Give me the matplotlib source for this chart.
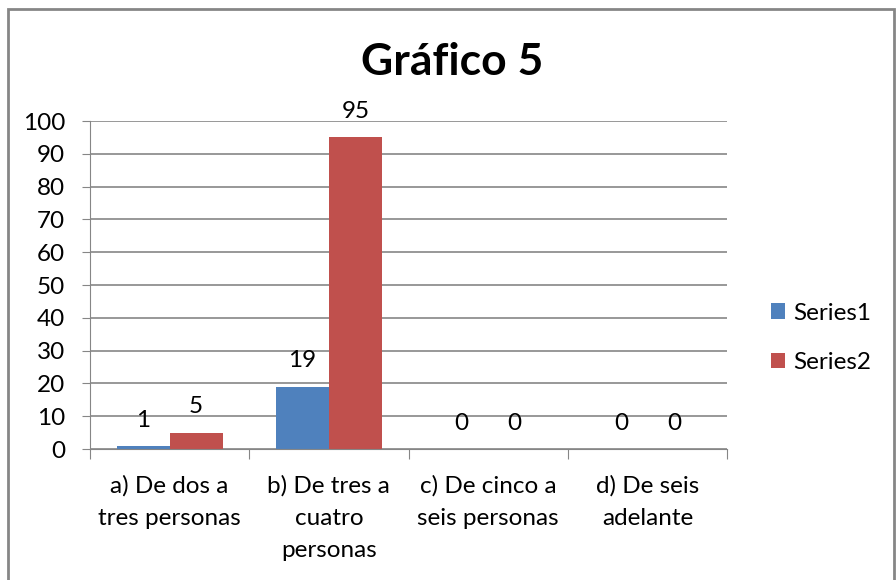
import matplotlib.pyplot as plt
from matplotlib.patches import Rectangle
import numpy as np

categories = ["a) De dos a\ntres personas", "b) De tres a\ncuatro\npersonas",
              "c) De cinco a\nseis personas", "d) De seis\nadelante"]
series1 = [1, 19, 0, 0]
series2 = [5, 95, 0, 0]
yticks = [0, 10, 20, 30, 40, 50, 60, 70, 80, 90, 100]

plt.rcParams['font.family'] = ['Lato', 'DejaVu Sans']
fs = 17.5

fig = plt.figure(figsize=(8.96, 5.8), dpi=100)
ax = fig.add_axes([90/896, 1-449/580, (727-90)/896, (449-121)/580])

# outer chart border
fig.patches.append(Rectangle((8/896, -0.05), (894-8)/896, 1.05-9/580, transform=fig.transFigure,
                             fill=False, edgecolor='#868686', linewidth=2))

x = np.arange(len(categories))
w = 1/3
b1 = ax.bar(x - w/2, series1, w, color='#4F81BD', label='Series1', zorder=3)
b2 = ax.bar(x + w/2, series2, w, color='#C0504D', label='Series2', zorder=3)

for bars, vals in [(b1, series1), (b2, series2)]:
    for r, v in zip(bars, vals):
        ax.annotate(str(v), (r.get_x() + r.get_width()/2, v), xytext=(0, 18.5),
                    textcoords='offset points', ha='center', va='center', fontsize=fs)

ax.set_xlim(-0.5, len(categories) - 0.5)
ax.set_ylim(0, 100)
ax.set_yticks(yticks)
ax.tick_params(axis='y', labelsize=fs, length=6, color='#868686', pad=12)
ax.set_xticks(np.arange(len(categories) + 1) - 0.5)
ax.set_xticklabels([])
ax.set_xticks(x, minor=True)
ax.set_xticklabels(categories, minor=True, fontsize=fs, linespacing=1.68)
ax.tick_params(axis='x', which='major', length=7, color='#868686')
ax.tick_params(axis='x', which='minor', length=0, pad=18.5)
ax.yaxis.grid(True, color='#868686', linewidth=1.2, zorder=0)
for s in ['top', 'right']:
    ax.spines[s].set_visible(False)
for s in ['left', 'bottom']:
    ax.spines[s].set_color('#868686')
    ax.spines[s].set_zorder(4)

fig.text(452/896, 1-62/580, "Gráfico 5", ha='center', va='center', fontsize=32, fontweight='bold')

fig.legend(handles=[b1, b2], loc='center left', bbox_to_anchor=(749/896, 1-338/580),
           frameon=False, fontsize=fs, handlelength=0.6, handleheight=0.6,
           labelspacing=1.18, handletextpad=0.3)

fig.savefig('out.png', dpi=100)
